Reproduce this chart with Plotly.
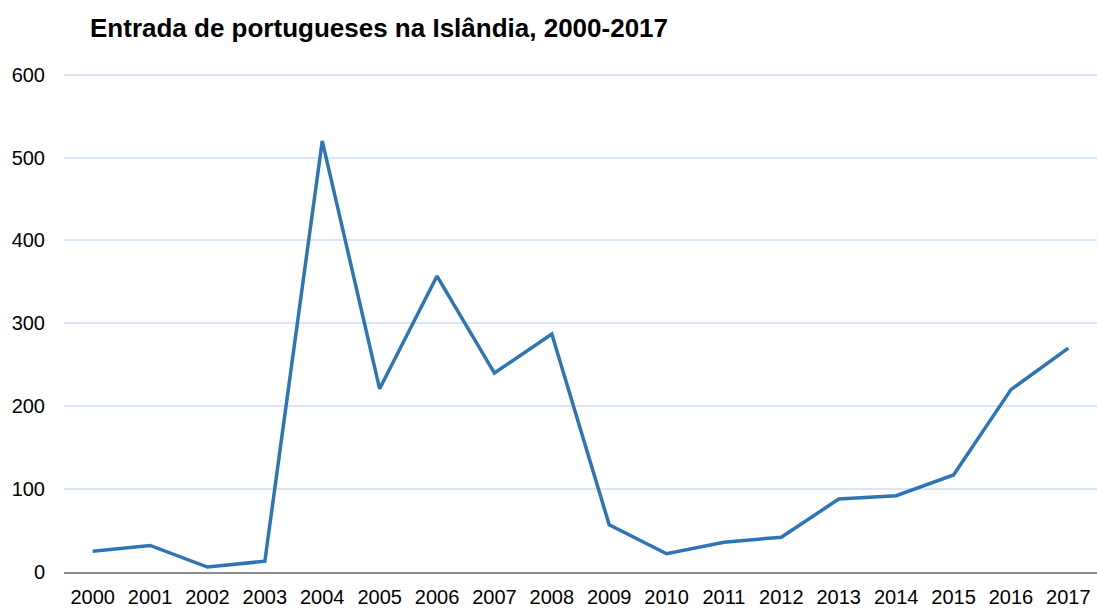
import plotly.graph_objects as go

years = [str(y) for y in range(2000, 2018)]
values = [25, 32, 6, 13, 520, 221, 357, 240, 287, 57, 22, 36, 42, 88, 92, 117, 220, 270]
y_ticks = [0, 100, 200, 300, 400, 500, 600]
title_text = "Entrada de portugueses na Islândia, 2000-2017"

W, H = 1097, 608
fig = go.Figure()
fig.add_trace(go.Scatter(
    x=years, y=values, mode="lines",
    line=dict(color="#2E75B6", width=3.5),
    hoverinfo="x+y", showlegend=False,
))

fig.update_layout(
    width=W, height=H,
    margin=dict(l=64, r=0, t=73, b=36),
    paper_bgcolor="white", plot_bgcolor="white",
    font=dict(family="Liberation Sans, Arial, sans-serif", size=20, color="#000000"),
    title=dict(
        text="<b>" + title_text + "</b>",
        font=dict(size=26, color="#000000"),
        xref="container", yref="container",
        x=90 / W, xanchor="left",
        y=1 - 28 / H, yanchor="middle",
    ),
    xaxis=dict(
        type="category",
        range=[-0.5, len(years) - 0.5],
        showgrid=False,
        showline=True, linecolor="#8C8C8C", linewidth=2,
        ticks="", ticklabelstandoff=6,
        tickfont=dict(size=20),
        zeroline=False,
    ),
    yaxis=dict(
        range=[0, 602],
        tickvals=y_ticks,
        showgrid=True, gridcolor="#DAE6F3", gridwidth=2,
        showline=False, zeroline=False,
        ticks="", ticklabelstandoff=18,
        tickfont=dict(size=20),
    ),
)

fig.write_html(
    "out.html",
    config={"displayModeBar": False},
    post_script="document.body.style.margin='0';document.body.style.overflow='hidden';",
)
